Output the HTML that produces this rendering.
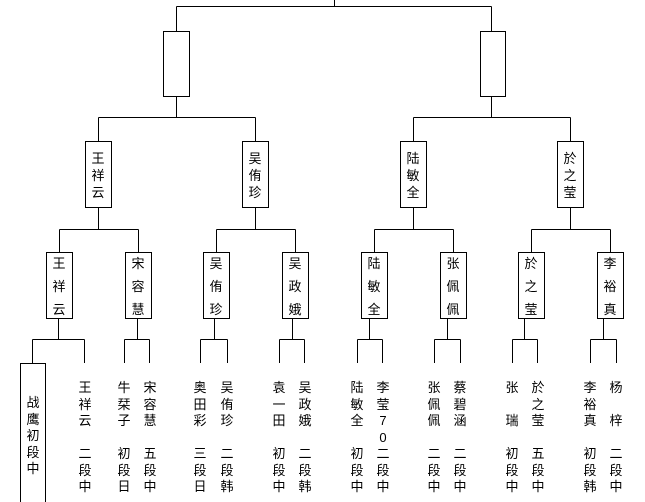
<!DOCTYPE html><html><head><meta charset="utf-8"><style>
body{margin:0;width:645px;height:502px;background:#fff;position:relative;overflow:hidden;font-family:"Liberation Sans","Noto Sans CJK SC",sans-serif;font-size:13px;color:#000}
.t{position:absolute;width:16px;margin-left:-8px;text-align:center;line-height:16.5px}
svg{position:absolute;left:0;top:0}
</style></head><body>
<svg width="645" height="502" shape-rendering="crispEdges" stroke="#000" fill="none" stroke-width="1">
<path d="M334.5 0V6.5M176.5 6.5H491.5M176.5 6.5V31M491.5 6.5V31"/>
<rect x="163.5" y="31.5" width="26" height="65" stroke-width="1.3"/>
<rect x="480.5" y="31.5" width="25" height="65" stroke-width="1.3"/>
<path d="M176.5 96V117.5M98.5 117.5H255.5M98.5 117.5V141M255.5 117.5V141"/>
<path d="M491.5 96V117.5M413.5 117.5H570.5M413.5 117.5V141M570.5 117.5V141"/>
<rect x="85.5" y="141.5" width="26" height="66" stroke-width="1.3"/>
<rect x="242.5" y="141.5" width="26" height="66" stroke-width="1.3"/>
<rect x="400.5" y="141.5" width="26" height="66" stroke-width="1.3"/>
<rect x="557.5" y="141.5" width="26" height="66" stroke-width="1.3"/>
<path d="M98.5 207V229.5M59.5 229.5H138.5M59.5 229.5V252M138.5 229.5V252"/>
<path d="M255.5 207V229.5M216.5 229.5H295.5M216.5 229.5V252M295.5 229.5V252"/>
<path d="M413.5 207V229.5M374.5 229.5H453.5M374.5 229.5V252M453.5 229.5V252"/>
<path d="M570.5 207V229.5M531.5 229.5H610.5M531.5 229.5V252M610.5 229.5V252"/>
<rect x="46.5" y="252.5" width="26" height="66" stroke-width="1.3"/>
<rect x="125.5" y="252.5" width="26" height="66" stroke-width="1.3"/>
<rect x="203.5" y="252.5" width="26" height="66" stroke-width="1.3"/>
<rect x="282.5" y="252.5" width="26" height="66" stroke-width="1.3"/>
<rect x="361.5" y="252.5" width="26" height="66" stroke-width="1.3"/>
<rect x="440.5" y="252.5" width="26" height="66" stroke-width="1.3"/>
<rect x="518.5" y="252.5" width="26" height="66" stroke-width="1.3"/>
<rect x="597.5" y="252.5" width="26" height="66" stroke-width="1.3"/>
<path d="M58.5 318V339.5M32.5 339.5H84.5M32.5 339.5V363M84.5 339.5V363"/>
<path d="M137.5 318V339.5M124.5 339.5H149.5M124.5 339.5V363M149.5 339.5V363"/>
<path d="M214.5 318V339.5M200.5 339.5H227.5M200.5 339.5V363M227.5 339.5V363"/>
<path d="M292.5 318V339.5M279.5 339.5H304.5M279.5 339.5V363M304.5 339.5V363"/>
<path d="M369.5 318V339.5M357.5 339.5H382.5M357.5 339.5V363M382.5 339.5V363"/>
<path d="M447.5 318V339.5M434.5 339.5H460.5M434.5 339.5V363M460.5 339.5V363"/>
<path d="M524.5 318V339.5M512.5 339.5H537.5M512.5 339.5V363M537.5 339.5V363"/>
<path d="M603.5 318V339.5M590.5 339.5H616.5M590.5 339.5V363M616.5 339.5V363"/>
<rect x="20.5" y="363.5" width="25" height="150" stroke-width="1.3"/>
</svg>
<!-- level2 -->
<div class="t" style="left:98px;top:150px;line-height:17px">王<br>祥<br>云</div>
<div class="t" style="left:255px;top:150px;line-height:17px">吴<br>侑<br>珍</div>
<div class="t" style="left:413px;top:150px;line-height:17px">陆<br>敏<br>全</div>
<div class="t" style="left:570px;top:150px;line-height:17px">於<br>之<br>莹</div>
<!-- level3 -->
<div class="t" style="left:59px;top:252px;line-height:23px">王<br>祥<br>云</div>
<div class="t" style="left:138px;top:252px;line-height:23px">宋<br>容<br>慧</div>
<div class="t" style="left:216px;top:252px;line-height:23px">吴<br>侑<br>珍</div>
<div class="t" style="left:295px;top:252px;line-height:23px">吴<br>政<br>娥</div>
<div class="t" style="left:374px;top:252px;line-height:23px">陆<br>敏<br>全</div>
<div class="t" style="left:453px;top:252px;line-height:23px">张<br>佩<br>佩</div>
<div class="t" style="left:531px;top:252px;line-height:23px">於<br>之<br>莹</div>
<div class="t" style="left:610px;top:252px;line-height:23px">李<br>裕<br>真</div>
<!-- bottom -->
<div class="t" style="left:33px;top:395px">战<br>鹰<br>初<br>段<br>中</div>
<div class="t" style="left:85px;top:380px">王<br>祥<br>云<br><br>二<br>段<br>中</div>
<div class="t" style="left:124px;top:380px">牛<br>栞<br>子<br><br>初<br>段<br>日</div>
<div class="t" style="left:150px;top:380px">宋<br>容<br>慧<br><br>五<br>段<br>中</div>
<div class="t" style="left:200px;top:380px">奥<br>田<br>彩<br><br>三<br>段<br>日</div>
<div class="t" style="left:227px;top:380px">吴<br>侑<br>珍<br><br>二<br>段<br>韩</div>
<div class="t" style="left:279px;top:380px">袁<br>一<br>田<br><br>初<br>段<br>中</div>
<div class="t" style="left:305px;top:380px">吴<br>政<br>娥<br><br>二<br>段<br>韩</div>
<div class="t" style="left:357px;top:380px">陆<br>敏<br>全<br><br>初<br>段<br>中</div>
<div class="t" style="left:383px;top:380px">李<br>莹<br>7<br>0<br>二<br>段<br>中</div>
<div class="t" style="left:434px;top:380px">张<br>佩<br>佩<br><br>二<br>段<br>中</div>
<div class="t" style="left:460px;top:380px">蔡<br>碧<br>涵<br><br>二<br>段<br>中</div>
<div class="t" style="left:512px;top:380px">张<br><br>瑞<br><br>初<br>段<br>中</div>
<div class="t" style="left:538px;top:380px">於<br>之<br>莹<br><br>五<br>段<br>中</div>
<div class="t" style="left:590px;top:380px">李<br>裕<br>真<br><br>初<br>段<br>韩</div>
<div class="t" style="left:616px;top:380px">杨<br><br>梓<br><br>二<br>段<br>中</div>
</body></html>
